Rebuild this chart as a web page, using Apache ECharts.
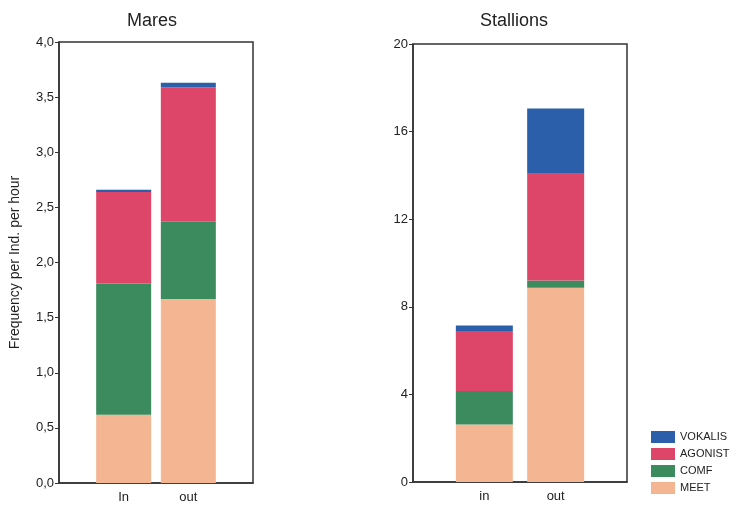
<!DOCTYPE html>
<html>
<head>
<meta charset="utf-8">
<script src="https://cdn.jsdelivr.net/npm/echarts@6/dist/echarts.min.js"></script>
<style>
  html,body{margin:0;padding:0;background:#fff;}
  #b{width:736px;height:505px;}
</style>
</head>
<body>
<div id="b"></div>
<script>
// categories (padded with empty slots on both sides so bars sit at 1 and 2 of 0..3)
var maresCats=['In','out'];
var stallionsCats=['in','out'];
var seriesNames=['MEET','COMF','AGONIST','VOKALIS'];
var colors=['#f4b592','#3b8b5e','#dd4668','#2b5fa9'];

// Mares values per behaviour, [in, out]
var maresMEET=[0.62,1.67];
var maresCOMF=[1.19,0.70];
var maresAGONIST=[0.83,1.22];
var maresVOKALIS=[0.02,0.04];

// Stallions values per behaviour, [in, out]
var stalMEET=[2.63,8.87];
var stalCOMF=[1.53,0.33];
var stalAGONIST=[2.74,4.88];
var stalVOKALIS=[0.25,2.97];

var maresTicks=[0,0.5,1,1.5,2,2.5,3,3.5,4];
var stalTicks=[0,4,8,12,16,20];

function pad(arr,fill){
  return [fill].concat(arr).concat([fill]);
}

var maresData=[maresMEET,maresCOMF,maresAGONIST,maresVOKALIS];
var stalData=[stalMEET,stalCOMF,stalAGONIST,stalVOKALIS];

var series=[];
seriesNames.forEach(function(n,i){
  series.push({
    name:n,type:'bar',stack:'m',xAxisIndex:0,yAxisIndex:0,
    barWidth:55,data:pad(maresData[i],'-'),
    itemStyle:{color:colors[i]}
  });
});
seriesNames.forEach(function(n,i){
  series.push({
    name:n,type:'bar',stack:'s',xAxisIndex:1,yAxisIndex:1,
    barWidth:57,data:pad(stalData[i],'-'),
    itemStyle:{color:colors[i]}
  });
});

function xAx(idx,cats){
  var d=pad(cats,'').map(function(c,i){return i===0?'':(i===cats.length+1?' ':c);});
  return {
    type:'category',gridIndex:idx,data:d,boundaryGap:false,
    axisLine:{show:true,lineStyle:{color:'#333',width:1.5}},
    axisTick:{show:false},
    splitLine:{show:false},
    axisLabel:{
      color:'#222',fontSize:13,margin:8,interval:0,
      formatter:function(v){return v.trim();}
    }
  };
}
function yAx(idx,ticks,fmt){
  return {
    type:'value',gridIndex:idx,
    min:ticks[0],max:ticks[ticks.length-1],interval:ticks[1]-ticks[0],
    axisLine:{show:true,lineStyle:{color:'#333',width:1.5}},
    axisTick:{show:true,length:4,lineStyle:{color:'#333'}},
    splitLine:{show:false},
    axisLabel:{color:'#222',fontSize:13,margin:5,formatter:fmt}
  };
}

var myChart=echarts.init(document.getElementById('b'));
option={
  backgroundColor:'#fff',
  textStyle:{fontFamily:'Liberation Sans, Arial, sans-serif'},
  title:[
    {text:'Mares',left:122,top:7,textStyle:{fontSize:18,fontWeight:'normal',color:'#222'}},
    {text:'Stallions',left:475,top:7,textStyle:{fontSize:18,fontWeight:'normal',color:'#222'}}
  ],
  grid:[
    {left:59,top:42,width:194,height:441,show:true,borderColor:'#333',borderWidth:1.5,backgroundColor:'transparent'},
    {left:413,top:44,width:214,height:438,show:true,borderColor:'#333',borderWidth:1.5,backgroundColor:'transparent'}
  ],
  xAxis:[xAx(0,maresCats),xAx(1,stallionsCats)],
  yAxis:[
    Object.assign(yAx(0,maresTicks,function(v){return v.toFixed(1).replace('.',',');}),{
      name:'Frequency per Ind. per hour',nameLocation:'middle',nameGap:37,
      nameTextStyle:{fontSize:14,color:'#222'}
    }),
    yAx(1,stalTicks,function(v){return String(v);})
  ],
  legend:{
    data:['VOKALIS','AGONIST','COMF','MEET'],
    orient:'vertical',left:646,top:426,
    itemWidth:24,itemHeight:12,itemGap:5,icon:'rect',
    textStyle:{fontSize:11,color:'#222'}
  },
  series:series
};
option && myChart.setOption(option);
</script>
</body>
</html>
